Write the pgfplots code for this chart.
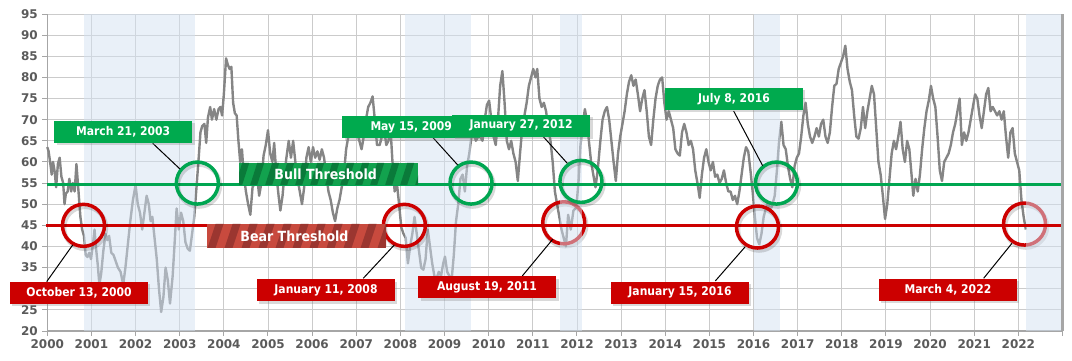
\documentclass[border=0pt]{standalone}
\usepackage{pgfplots}
\pgfplotsset{compat=1.18}
\usepackage{fontspec}
\setmainfont{DejaVu Sans}
\newfontfamily\boxfont[FakeStretch=0.9]{DejaVu Sans}
\usetikzlibrary{calc,shadows}
\definecolor{serc}{HTML}{858585}
\definecolor{gridc}{HTML}{CBCBCB}
\definecolor{axc}{HTML}{A6A6A6}
\definecolor{tickc}{HTML}{5A5A5A}
\definecolor{bandc}{HTML}{D4E2F2}
\definecolor{grn}{HTML}{00AA4E}
\definecolor{grnline}{HTML}{00A651}
\definecolor{redc}{HTML}{CC0000}
\definecolor{bulllight}{HTML}{12A24E}
\definecolor{bulldark}{HTML}{0A7A3A}
\definecolor{bearlight}{HTML}{C84A3E}
\definecolor{beardark}{HTML}{9B3630}
\tikzset{
 lbl/.style={fill=#1, text=white, font=\boxfont\bfseries\fontsize{12bp}{14bp}\selectfont,
   minimum width=138bp, minimum height=22bp, inner sep=0pt,
   drop shadow={shadow xshift=2.5bp, shadow yshift=-2.5bp, opacity=0.3}},
 ring/.style={draw=#1, line width=3.5bp},
 ringsh/.style={draw=black, opacity=0.15, line width=4.5bp},
}
\pgfplotstableread{
x y
2000.00 63.5
2000.03 62.5
2000.07 59.5
2000.10 57
2000.13 60
2000.17 57.5
2000.20 54
2000.24 59.5
2000.28 61
2000.32 56.5
2000.36 55
2000.39 50
2000.42 52.5
2000.46 53
2000.50 56
2000.54 53
2000.58 55
2000.62 53
2000.66 59.5
2000.70 54
2000.75 47
2000.79 44
2000.83 42.5
2000.87 38
2000.91 37.5
2000.95 38.5
2000.99 37
2001.04 41
2001.07 44
2001.10 40
2001.14 36
2001.18 31
2001.22 33.5
2001.27 39
2001.32 43
2001.36 41.5
2001.40 42.5
2001.45 38.5
2001.50 38
2001.55 36.5
2001.60 35
2001.66 34
2001.72 31
2001.77 35
2001.82 40
2001.88 46
2001.94 51
2002.00 54.5
2002.05 50
2002.10 48
2002.15 44
2002.20 48
2002.25 52
2002.30 50
2002.34 46
2002.38 47
2002.43 42
2002.48 37
2002.53 30
2002.58 24.5
2002.63 28
2002.68 35
2002.73 32
2002.78 26.5
2002.84 33
2002.88 40
2002.93 49
2002.98 44
2003.03 48
2003.08 46
2003.13 41
2003.18 39.5
2003.23 39
2003.28 43
2003.33 47
2003.38 54
2003.43 61
2003.47 67
2003.51 68.5
2003.56 69
2003.60 64.5
2003.64 70.5
2003.69 73
2003.73 70
2003.78 72.5
2003.83 70
2003.88 72.5
2003.92 73
2003.96 71
2004.00 76
2004.05 84.5
2004.09 83
2004.13 82
2004.17 82.5
2004.21 74
2004.25 71.5
2004.29 71
2004.33 65
2004.37 60
2004.41 63
2004.45 57
2004.50 53
2004.55 50
2004.60 47.5
2004.65 54
2004.70 55
2004.75 57
2004.80 52
2004.85 55
2004.90 61.5
2004.95 64
2005.00 67.5
2005.05 62
2005.10 60
2005.14 64.5
2005.19 57
2005.24 52
2005.28 48.5
2005.33 52
2005.38 58
2005.43 62
2005.47 65
2005.52 61
2005.57 65
2005.62 60
2005.67 56
2005.72 53
2005.77 50
2005.82 54
2005.87 61
2005.92 63.5
2005.97 60
2006.02 63.5
2006.07 61
2006.12 62.5
2006.17 60.5
2006.22 63
2006.27 61
2006.32 57
2006.37 53
2006.42 51
2006.47 48
2006.52 46
2006.57 49
2006.62 51
2006.67 54
2006.72 57
2006.77 63
2006.82 66
2006.87 70.5
2006.92 68
2006.97 66
2007.02 67
2007.07 65
2007.12 63
2007.17 66
2007.22 70
2007.27 73
2007.32 74
2007.37 75.5
2007.42 70
2007.47 64
2007.53 64
2007.58 66
2007.63 68
2007.68 64
2007.73 65
2007.77 69
2007.82 60
2007.87 53
2007.92 55
2007.97 50
2008.02 44.5
2008.07 43
2008.12 42
2008.17 36
2008.22 40
2008.27 43
2008.32 47
2008.37 43
2008.42 39
2008.47 35
2008.52 34.5
2008.57 37
2008.62 44
2008.67 40
2008.72 36
2008.77 33
2008.82 32.5
2008.87 34
2008.92 33
2008.97 36
2009.01 37.6
2009.06 34
2009.11 33
2009.16 32
2009.21 38
2009.26 46
2009.31 50
2009.36 56
2009.41 57
2009.46 53
2009.51 59
2009.56 62
2009.61 66
2009.66 67
2009.71 65
2009.76 66
2009.81 66
2009.86 65
2009.91 70
2009.96 73.5
2010.01 74.5
2010.06 70
2010.11 66
2010.16 64
2010.21 70
2010.26 78
2010.31 81.5
2010.36 74
2010.41 65
2010.46 63
2010.51 65
2010.56 62
2010.61 60
2010.66 55.5
2010.71 62
2010.76 68
2010.81 71
2010.86 74
2010.91 78
2010.96 80
2011.01 82
2011.06 80
2011.10 82
2011.15 75
2011.20 73
2011.25 74
2011.30 72
2011.35 68
2011.40 65
2011.45 60
2011.50 53
2011.55 50
2011.60 47
2011.65 44
2011.70 42
2011.75 40
2011.80 47.5
2011.86 44
2011.92 48.5
2011.97 49
2012.00 51
2012.04 56
2012.08 64
2012.13 69
2012.18 72.5
2012.22 70
2012.27 65
2012.32 60
2012.37 57
2012.42 54
2012.47 58
2012.53 65
2012.58 70
2012.63 72
2012.68 73
2012.73 70
2012.78 65
2012.83 60
2012.88 55.5
2012.93 62
2012.98 66
2013.03 69
2013.08 72
2013.13 76
2013.18 79
2013.23 80.5
2013.28 78
2013.33 79.5
2013.38 76
2013.43 72
2013.48 75
2013.53 77
2013.58 72
2013.63 66
2013.68 64
2013.73 70
2013.78 75
2013.83 78
2013.88 79.5
2013.93 80
2013.98 74
2014.03 70
2014.08 72
2014.13 70
2014.18 68
2014.23 63
2014.28 62
2014.33 61.5
2014.38 67
2014.43 69
2014.48 67
2014.53 64
2014.58 65
2014.63 63
2014.68 58
2014.73 55
2014.78 51.5
2014.83 57
2014.88 61
2014.93 63
2014.98 60
2015.03 58
2015.08 60
2015.13 56.5
2015.18 57
2015.23 55
2015.28 56
2015.33 58
2015.38 55
2015.43 53
2015.48 53
2015.53 51
2015.58 52
2015.63 50
2015.68 53
2015.73 57
2015.78 61
2015.83 63.5
2015.88 62.5
2015.93 58
2015.98 53
2016.03 47
2016.08 42
2016.13 40.5
2016.18 43
2016.23 47
2016.28 49
2016.33 50.5
2016.38 48.5
2016.43 50
2016.48 52
2016.53 58
2016.58 65
2016.63 69.5
2016.68 64
2016.73 63
2016.78 59
2016.83 56
2016.88 54
2016.93 59
2016.98 61
2017.03 62
2017.08 66
2017.13 71
2017.18 74
2017.23 69
2017.28 66
2017.33 64.5
2017.38 66
2017.43 68
2017.48 66
2017.53 69
2017.58 70
2017.63 66
2017.68 64.5
2017.73 67
2017.78 73
2017.83 78
2017.88 78.5
2017.93 82
2017.98 83.5
2018.03 85
2018.08 87.5
2018.13 82
2018.18 79
2018.23 77
2018.28 71
2018.33 66
2018.38 65.5
2018.43 68
2018.48 73
2018.53 68
2018.58 72
2018.63 75
2018.68 78
2018.73 76
2018.78 68
2018.83 60
2018.88 57
2018.93 52
2018.98 46.5
2019.03 50
2019.08 56
2019.13 62
2019.18 65
2019.23 63
2019.28 66
2019.33 69.5
2019.38 63
2019.43 60
2019.48 65
2019.53 63
2019.58 57
2019.62 52
2019.67 56
2019.72 53
2019.77 57
2019.82 63
2019.87 68
2019.92 72
2019.97 74.5
2020.02 78
2020.07 75
2020.12 73
2020.17 66
2020.22 58
2020.27 55.5
2020.32 60
2020.37 61
2020.42 62
2020.47 64
2020.52 67
2020.57 69
2020.62 72
2020.67 75
2020.72 64
2020.77 67
2020.82 65
2020.87 67
2020.92 70
2020.97 73
2021.02 76
2021.07 75
2021.12 71
2021.17 68
2021.22 72
2021.27 76
2021.32 77.5
2021.37 72
2021.42 73
2021.47 72
2021.52 71
2021.57 72
2021.62 70
2021.67 72
2021.72 66
2021.77 61
2021.82 67
2021.87 68
2021.92 62
2021.97 60
2022.02 58
2022.07 51
2022.12 47
2022.17 44
}\datatable
\begin{document}
\begin{tikzpicture}
\useasboundingbox (0,0) rectangle (1072bp,361bp);
\begin{axis}[
  at={(47.3bp,30bp)}, anchor=south west,
  width=1015.2bp, height=317bp, scale only axis,
  xmin=2000, xmax=2023, ymin=20, ymax=95,
  xtick={2000,2001,...,2023},
  xticklabels={2000,2001,2002,2003,2004,2005,2006,2007,2008,2009,2010,2011,2012,2013,2014,2015,2016,2017,2018,2019,2020,2021,2022,{}},
  ytick={20,25,...,95},
  grid=major, grid style={draw=gridc, line width=0.9bp},
  axis lines*=left, axis line style={draw=axc, line width=1.6bp, -},
  tick align=outside, major tick length=5bp,
  tick style={draw=axc, line width=1bp},
  ticklabel style={font=\bfseries\fontsize{12bp}{14bp}\selectfont, text=tickc},
  yticklabel style={xshift=-1bp},
  /pgf/number format/assume math mode=true,
  clip=false,
]
\addplot[serc, line width=2.4bp, line join=round] table[x=x,y=y] {\datatable};
% circles partly faded by the bands
\foreach \cx/\cy/\cc in {2011.70/45.6/redc, 2022.14/45.3/redc}{
  \edef\tmp{\noexpand\draw[ringsh] ([shift={(1.5bp,-2.5bp)}]axis cs:\cx,\cy) circle[radius=21bp];
  \noexpand\draw[ring=\cc] (axis cs:\cx,\cy) circle[radius=21bp];}\tmp
}
% shaded bands
\fill[bandc, fill opacity=0.5] (axis cs:2000.83,20) rectangle (axis cs:2003.35,95);
\fill[bandc, fill opacity=0.5] (axis cs:2008.10,20) rectangle (axis cs:2009.61,95);
\fill[bandc, fill opacity=0.5] (axis cs:2011.62,20) rectangle (axis cs:2012.11,95);
\fill[bandc, fill opacity=0.5] (axis cs:2016.02,20) rectangle (axis cs:2016.59,95);
\fill[bandc, fill opacity=0.5] (axis cs:2022.18,20) rectangle (axis cs:2023,95);
% thresholds
\addplot[grnline, line width=2.6bp] coordinates {(2000,54.7) (2023,54.7)};
\addplot[redc, line width=2.6bp] coordinates {(1999.97,45) (2023,45)};
% other circles
\foreach \cx/\cy/\cc in {2000.82/45/redc, 2003.40/55/grnline, 2008.09/45/redc, 2009.60/55/grnline, 2012.09/55.4/grnline, 2016.09/44.6/redc, 2016.52/55/grnline}{
  \edef\tmp{\noexpand\draw[ringsh] ([shift={(1.5bp,-2.5bp)}]axis cs:\cx,\cy) circle[radius=21bp];
  \noexpand\draw[ring=\cc] (axis cs:\cx,\cy) circle[radius=21bp];}\tmp
}
% right border
\draw[axc, line width=2.2bp] (rel axis cs:1,0) -- (rel axis cs:1,1);
% connectors
\draw[black, line width=1bp] (axis cs:1999.986,31.67) -- (axis cs:2000.575,40.35);
\draw[black, line width=1bp] (axis cs:2002.388,64.41) -- (axis cs:2003.006,58.33);
\draw[black, line width=1bp] (axis cs:2007.159,32.47) -- (axis cs:2007.861,40.35);
\draw[black, line width=1bp] (axis cs:2008.731,65.83) -- (axis cs:2009.298,59.28);
\draw[black, line width=1bp] (axis cs:2011.223,66.14) -- (axis cs:2011.781,59.68);
\draw[black, line width=1bp] (axis cs:2010.761,33.02) -- (axis cs:2011.45,41.70);
\draw[black, line width=1bp] (axis cs:2015.55,72.05) -- (axis cs:2016.207,59.11);
\draw[black, line width=1bp] (axis cs:2015.134,31.84) -- (axis cs:2015.813,39.95);
\draw[black, line width=1bp] (axis cs:2021.214,32.47) -- (axis cs:2021.855,40.75);
% anchor coordinates
\coordinate (bull) at (axis cs:2006.375,57.15);
\coordinate (bear) at (axis cs:2005.646,42.48);
\coordinate (l1) at (axis cs:2000.718,29.0);
\coordinate (l2) at (axis cs:2001.717,67.2);
\coordinate (l3) at (axis cs:2006.314,29.6);
\coordinate (l4) at (axis cs:2008.245,68.15);
\coordinate (l5) at (axis cs:2010.733,68.6);
\coordinate (l6) at (axis cs:2009.962,30.3);
\coordinate (l7) at (axis cs:2014.334,29.1);
\coordinate (l8) at (axis cs:2015.557,74.9);
\coordinate (l9) at (axis cs:2020.405,29.8);
\end{axis}
% striped threshold labels
\begin{scope}
\clip ($(bull)+(-89.5bp,-11bp)$) rectangle ($(bull)+(89.5bp,11bp)$);
\fill[bulllight] ($(bull)+(-89.5bp,-11bp)$) rectangle ($(bull)+(89.5bp,11bp)$);
\foreach \i in {-7,...,7}{
  \fill[bulldark] ($(bull)+(\i*15bp-3.5bp,-11bp)$) -- ++(7bp,0) -- ++(7bp,22bp) -- ++(-7bp,0) -- cycle;
}
\end{scope}
\node[text=white, font=\boxfont\bfseries\fontsize{14bp}{16bp}\selectfont] at ($(bull)+(-3bp,0)$) {Bull Threshold};
\begin{scope}
\clip ($(bear)+(-89.5bp,-12bp)$) rectangle ($(bear)+(89.5bp,12bp)$);
\fill[bearlight] ($(bear)+(-89.5bp,-12bp)$) rectangle ($(bear)+(89.5bp,12bp)$);
\foreach \i in {-7,...,7}{
  \fill[beardark] ($(bear)+(\i*17bp-4bp,-12bp)$) -- ++(8bp,0) -- ++(8bp,24bp) -- ++(-8bp,0) -- cycle;
}
\end{scope}
\node[text=white, font=\boxfont\bfseries\fontsize{14bp}{16bp}\selectfont] at ($(bear)+(-2bp,0)$) {Bear Threshold};
% date labels
\node[lbl=redc] at (l1) {October 13, 2000};
\node[lbl=grn] at (l2) {March 21, 2003};
\node[lbl=redc] at (l3) {January 11, 2008};
\node[lbl=grn] at (l4) {May 15, 2009};
\node[lbl=grn] at (l5) {January 27, 2012};
\node[lbl=redc] at (l6) {August 19, 2011};
\node[lbl=redc] at (l7) {January 15, 2016};
\node[lbl=grn] at (l8) {July 8, 2016};
\node[lbl=redc] at (l9) {March 4, 2022};
\end{tikzpicture}
\end{document}
